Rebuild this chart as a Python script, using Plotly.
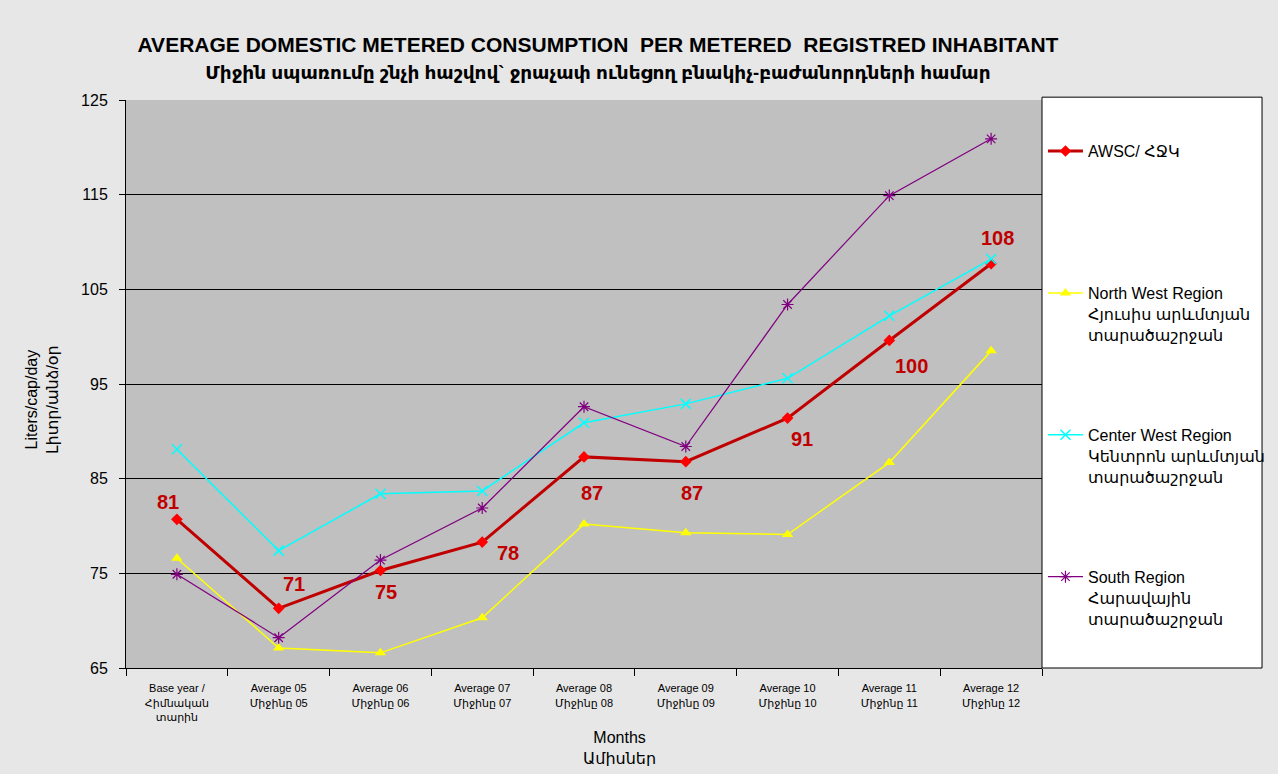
import plotly.graph_objects as go

categories = ["Base year /<br>Հիմնական<br>տարին", "Average 05<br>Միջինը 05", "Average 06<br>Միջինը 06",
              "Average 07<br>Միջինը 07", "Average 08<br>Միջինը 08", "Average 09<br>Միջինը 09",
              "Average 10<br>Միջինը 10", "Average 11<br>Միջինը 11", "Average 12<br>Միջինը 12"]

awsc = [80.7, 71.3, 75.3, 78.3, 87.3, 86.8, 91.4, 99.6, 107.7]
north_west = [76.6, 67.1, 66.6, 70.3, 80.2, 79.3, 79.1, 86.7, 98.5]
center_west = [88.1, 77.4, 83.4, 83.7, 90.9, 92.9, 95.6, 102.2, 108.2]
south = [74.9, 68.2, 76.4, 81.9, 92.6, 88.4, 103.4, 114.9, 120.9]

name_awsc = "AWSC/ ՀՋԿ<br>&nbsp;<br>&nbsp;"
name_nw = "North West Region<br>Հյուսիս արևմտյան<br>տարածաշրջան"
name_cw = "Center West Region<br>Կենտրոն արևմտյան<br>տարածաշրջան"
name_s = "South Region<br>Հարավային<br>տարածաշրջան"

title_lines = ["AVERAGE DOMESTIC METERED CONSUMPTION  PER METERED  REGISTRED INHABITANT",
               "Միջին սպառումը շնչի հաշվով` ջրաչափ ունեցող բնակիչ-բաժանորդների համար"]
y_title = "Liters/cap/day<br>Լիտր/անձ/օր"
x_title = "Months<br>Ամիսներ"

# label offsets (px) for AWSC value labels
label_dx = [-9, 15, 6, 26, 8, 6, 14, 22, 6]
label_dy = [17, 24, -22, -11, -36, -31, -21, -26, 26]

FONT = "Liberation Sans, Arial, DejaVu Sans, sans-serif"
BG = "#E7E7E7"

fig = go.Figure()
fig.add_trace(go.Scatter(x=categories, y=awsc, name=name_awsc, legendgroup="a", mode="lines+markers",
                         line=dict(color="#C00000", width=3),
                         marker=dict(symbol="diamond", size=9, color="#FF0000")))
fig.add_trace(go.Scatter(x=categories, y=north_west, name=name_nw, legendgroup="b", mode="lines+markers",
                         line=dict(color="#FFFF00", width=1.5),
                         marker=dict(symbol="triangle-up", size=10, color="#FFFF00")))
fig.add_trace(go.Scatter(x=categories, y=center_west, name=name_cw, legendgroup="c", mode="lines+markers",
                         line=dict(color="#00FFFF", width=1.5),
                         marker=dict(symbol="x-thin-open", size=10, color="#00FFFF",
                                     line=dict(color="#00FFFF", width=1.5))))
fig.add_trace(go.Scatter(x=categories, y=south, name=name_s, legendgroup="d", mode="lines+markers",
                         line=dict(color="#800080", width=1.2),
                         marker=dict(symbol="asterisk-open", size=10, color="#800080",
                                     line=dict(color="#800080", width=1.2))))

for i, (c, v) in enumerate(zip(categories, awsc)):
    fig.add_annotation(x=c, y=v, text=f"<b>{v:.0f}</b>", showarrow=False,
                       xshift=label_dx[i], yshift=label_dy[i],
                       font=dict(family=FONT, size=20, color="#C00000"))

# axis titles
fig.add_annotation(xref="paper", yref="paper", x=-0.0917, y=0.472, xanchor="center", yanchor="middle",
                   text=y_title, textangle=-90,
                   showarrow=False, font=dict(family=FONT, size=16, color="black"))
fig.add_annotation(xref="paper", yref="paper", x=0.539, y=-0.1405, xanchor="center", yanchor="middle",
                   text=x_title,
                   showarrow=False, font=dict(family=FONT, size=16, color="black"))

# legend box
fig.add_shape(type="rect", xref="paper", yref="paper", x0=1.0, x1=1.2402, y0=0.0, y1=1.005,
              fillcolor="white", line=dict(color="black", width=1), layer="below")

fig.update_layout(
    width=1262, height=758,
    margin=dict(l=118, r=228, t=92, b=98, autoexpand=False),
    paper_bgcolor=BG,
    plot_bgcolor="#C0C0C0",
    font=dict(family=FONT, color="black"),
    title=dict(text=f"<b>{title_lines[0]}<br><span style='font-size:18.5px'>{title_lines[1]}</span></b>",
               x=0.4675, xanchor="center", y=0.9426, yanchor="top",
               font=dict(size=21, family=FONT)),
    showlegend=True,
    legend=dict(xref="container", x=0.8201, xanchor="left", y=0.94, yanchor="top",
                bgcolor="rgba(0,0,0,0)",
                font=dict(size=16, family=FONT), tracegroupgap=76.5, valign="top",
                itemwidth=35),
    xaxis=dict(range=[-0.5, 8.5], showgrid=False, showline=True, linecolor="black", linewidth=1,
               ticks="outside", tickson="boundaries", ticklen=7, tickcolor="black",
               tickfont=dict(size=11, family=FONT), tickangle=0, ticklabelstandoff=10),
    yaxis=dict(range=[65, 125], tick0=65, dtick=10, showgrid=True, gridcolor="black", gridwidth=1,
               showline=True, linecolor="black", linewidth=1, ticks="outside", ticklen=6,
               tickcolor="black", tickfont=dict(size=16, family=FONT), zeroline=False,
               ticklabelstandoff=8),
)

fig.write_html("out.html", post_script=f"document.body.style.background='{BG}';")
